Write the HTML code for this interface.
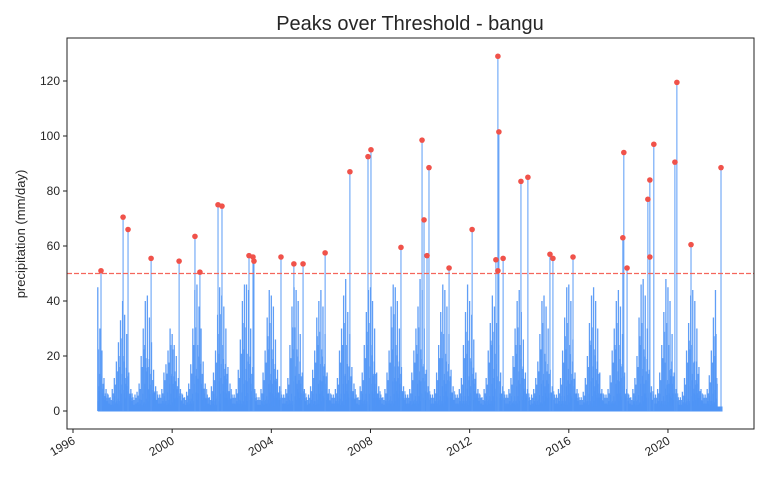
<!DOCTYPE html>
<html><head><meta charset="utf-8"><style>
html,body{margin:0;padding:0;background:#fff;}
svg text{font-family:"Liberation Sans","DejaVu Sans",sans-serif;fill:#262626;}
</style></head><body>
<svg id="chart" width="768" height="480" viewBox="0 0 768 480" xmlns="http://www.w3.org/2000/svg">
<rect width="768" height="480" fill="#fff"/>
<text x="410" y="30" font-size="20" text-anchor="middle">Peaks over Threshold - bangu</text>
<text transform="translate(25,234) rotate(-90)" font-size="13" text-anchor="middle">precipitation (mm/day)</text>
<g id="series"></g>
<g id="axes"></g>
</svg>
<script>
// monthly max precipitation (mm/day) Jan 1997 .. Dec 2021 (approximate readings)
const monthly = [
 45,30,22,12,8,6,5,8,12,18,25,33,
 40,35,28,14,8,5,6,7,10,20,30,40,
 42,34,25,15,9,6,6,8,14,17,22,30,
 28,24,20,12,8,6,5,7,10,17,30,44,
 46,38,30,18,10,6,5,9,14,22,35,45,
 42,38,30,16,10,6,6,8,15,26,40,46,
 46,44,30,16,8,5,5,8,14,22,34,44,
 42,38,26,15,9,6,6,8,12,24,38,45,
 44,40,28,14,8,5,6,9,15,22,34,40,
 44,38,28,14,8,6,6,8,12,22,30,42,
 48,36,28,16,10,6,5,9,14,24,36,44,
 45,40,30,14,9,6,5,8,14,22,38,46,
 45,40,30,16,9,6,6,8,14,22,30,38,
 48,44,30,15,9,6,6,8,14,24,36,46,
 44,38,28,15,9,6,6,8,12,24,36,46,
 40,35,26,14,8,6,5,8,12,22,32,42,
 38,32,24,14,9,6,6,8,12,20,30,40,
 44,36,26,14,8,5,6,8,12,18,28,40,
 42,38,30,15,9,6,6,8,12,22,34,45,
 46,40,26,14,8,5,5,7,12,20,32,42,
 45,40,30,14,8,6,6,8,13,22,30,40,
 44,38,28,14,8,6,5,8,12,20,34,46,
 48,42,30,15,9,6,6,8,14,24,36,48,
 45,40,28,14,8,5,5,7,12,22,32,42,
 44,40,30,16,8,6,6,8,13,22,34,44
];
const startYear = 1997;
const peakDates = [1997.13,1998.02,1998.22,1999.15,2000.28,2000.92,2001.12,2001.85,2002.01,2003.10,2003.26,2003.30,2004.39,2004.91,2005.28,2006.17,2007.17,2007.90,2008.02,2009.23,2010.08,2010.16,2010.28,2010.36,2011.17,2012.10,2013.06,2013.14,2013.14,2013.18,2013.35,2014.07,2014.35,2015.24,2015.36,2016.17,2018.18,2018.22,2018.35,2019.19,2019.27,2019.27,2019.43,2020.28,2020.36,2020.93,2022.14];
const peakValues = [51,70.5,66,55.5,54.5,63.5,50.5,75,74.5,56.5,56,54.5,56,53.5,53.5,57.5,87,92.5,95,59.5,98.5,69.5,56.5,88.5,52,66,55,129,51,101.5,55.5,83.5,85,57,55.5,56,63,94,52,77,84,56,97,90.5,119.5,60.5,88.5];
const threshold = 50;
const xTicks = [1996,2000,2004,2008,2012,2016,2020];
const yTicks = [0,20,40,60,80,100,120];

const L=67,R=754,T=38,B=429;
const x = yr => 73 + (yr-1996)*24.79;
const y = v => 411 - v*2.75;
const NS="http://www.w3.org/2000/svg";
function mk(tag,attrs,parent){const e=document.createElementNS(NS,tag);for(const k in attrs)e.setAttribute(k,attrs[k]);parent.appendChild(e);return e;}
const S=document.getElementById('series'), A=document.getElementById('axes');

const n = monthly.length;
monthly.forEach((v,i)=>{
  const t0 = startYear + i/12;
  for(let j=0;j<6;j++){
    const t=t0+j/72;
    const other = monthly[(i+j*7)%n];
    const h = j===0? v : Math.min(v, other)*(j%2===0?0.8:0.45);
    const ln=mk('line',{x1:x(t),x2:x(t),y1:y(0),y2:y(h),stroke:'#4f94f5','stroke-width':1.3,'stroke-opacity':j===0?0.9:0.75},S);
    
    
  }
});
mk('line',{x1:x(startYear),x2:x(2022.2),y1:y(0)-2,y2:y(0)-2,stroke:'#4f94f5','stroke-width':5},S);
peakDates.forEach((d,i)=>{
  const ln=mk('line',{x1:x(d),x2:x(d),y1:y(0),y2:y(peakValues[i]),stroke:'#5b9cf6','stroke-width':1},S);
  
  
});
const th=mk('line',{x1:L,x2:R,y1:y(threshold),y2:y(threshold),stroke:'#f5665c','stroke-width':1.3,'stroke-dasharray':'5,2'},S);


peakDates.forEach((d,i)=>{
  const c=mk('circle',{cx:x(d),cy:y(peakValues[i]),r:2.8,fill:'#f0524a'},S);
  
  
});
const fr=mk('rect',{x:L,y:T,width:R-L,height:B-T,fill:'none',stroke:'#222','stroke-width':1},A);


yTicks.forEach(v=>{
  mk('line',{x1:L-4,x2:L,y1:y(v),y2:y(v),stroke:'#222'},A);
  const t=mk('text',{x:L-7,y:y(v)+4,'font-size':12,'text-anchor':'end'},A);
  t.textContent=v;
  
  
});
xTicks.forEach(v=>{
  mk('line',{x1:x(v),x2:x(v),y1:B,y2:B+4,stroke:'#222'},A);
  const t=mk('text',{transform:`translate(${x(v)+3},${B+14}) rotate(-30)`,'font-size':12,'text-anchor':'end'},A);
  t.textContent=v;
  
  
});
</script>
</body></html>
